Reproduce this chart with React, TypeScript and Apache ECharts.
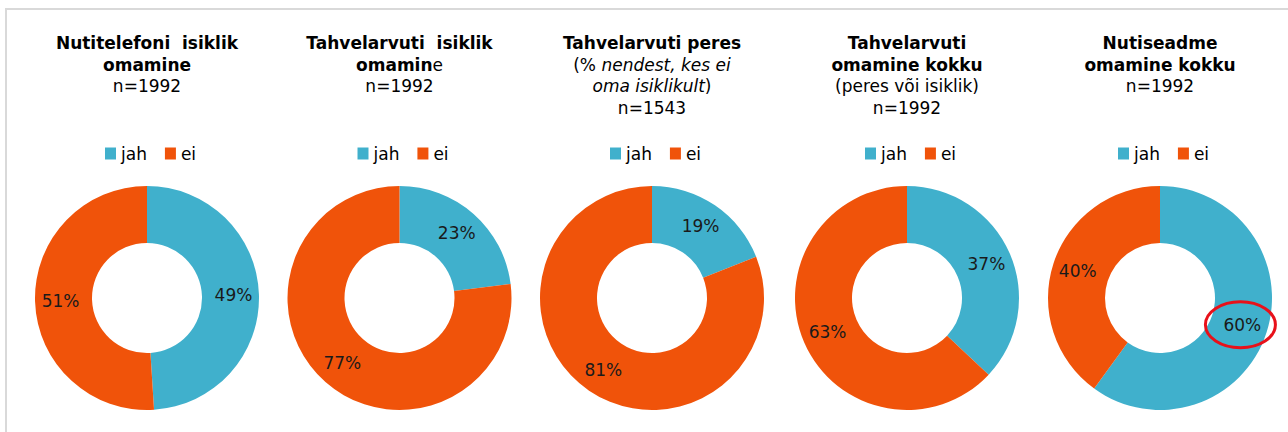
import React, { useEffect, useRef } from "react";
import * as echarts from "echarts";

const categories = ["jah", "ei"];
const jahValues = [49, 23, 19, 37, 60];
const eiValues = [51, 77, 81, 63, 40];
const titleTexts = [
  "{b|Nutitelefoni  isiklik}\n{b|omamine}\n{r|n=1992}",
  "{b|Tahvelarvuti  isiklik}\n{b|omamin}{r|e}\n{r|n=1992}",
  "{b|Tahvelarvuti peres}\n{r|(% }{i|nendest, kes ei}\n{i|oma isiklikult}{r|)}\n{r|n=1543}",
  "{b|Tahvelarvuti}\n{b|omamine kokku}\n{r|(peres või isiklik)}\n{r|n=1992}",
  "{b|Nutiseadme}\n{b|omamine kokku}\n{r|n=1992}",
];
const highlightChart = 4;

const centersX = [147, 399.5, 652, 907, 1160];
const centerY = 298;
const radii = [55, 112];
const COLORS = ["#40b0cc", "#f0530a"];
const FONT = "'DejaVu Sans', Verdana, sans-serif";

export default function App() {
  const ref = useRef<HTMLDivElement>(null);
  useEffect(() => {
    const chart = echarts.init(ref.current!, undefined, { renderer: "svg" });
    const rich = {
      b: { fontFamily: FONT, fontSize: 17, fontWeight: "bold", color: "#000", lineHeight: 21.7 },
      r: { fontFamily: FONT, fontSize: 17, fontWeight: "normal", color: "#000", lineHeight: 21.7 },
      i: { fontFamily: FONT, fontSize: 17, fontStyle: "italic", fontWeight: "normal", color: "#000", lineHeight: 21.7 },
    };
    const titles = titleTexts.map((t, k) => ({
      text: t,
      left: centersX[k],
      top: 32,
      padding: 0,
      textAlign: "center",
      textStyle: { rich, fontFamily: FONT, fontSize: 17, lineHeight: 21.7 },
    }));
    const legends = centersX.map((cx) => ({
      data: categories,
      left: cx - 42,
      top: 145,
      padding: 0,
      icon: "rect",
      itemWidth: 11,
      itemHeight: 12,
      itemGap: 18,
      selectedMode: false,
      textStyle: { fontFamily: FONT, fontSize: 17, color: "#000" },
    }));
    const series = centersX.map((cx, k) => ({
      type: "pie",
      center: [cx, centerY],
      radius: radii,
      startAngle: 90,
      clockwise: true,
      avoidLabelOverlap: false,
      silent: true,
      label: {
        show: true,
        position: "inside",
        formatter: (p: any) => p.value + "%",
        fontFamily: FONT,
        fontSize: 17,
        color: "#1a1a1a",
      },
      labelLine: { show: false },
      data: [
        { name: categories[0], value: jahValues[k], itemStyle: { color: COLORS[0] } },
        { name: categories[1], value: eiValues[k], itemStyle: { color: COLORS[1] } },
      ],
    }));
    // ellipse around highlighted label, positioned from data
    const hv = jahValues[highlightChart];
    const total = hv + eiValues[highlightChart];
    const midDeg = 90 - (hv / total) * 180;
    const rMid = (radii[0] + radii[1]) / 2;
    const ex = centersX[highlightChart] + rMid * Math.cos((midDeg * Math.PI) / 180) + 1;
    const ey = centerY - rMid * Math.sin((midDeg * Math.PI) / 180) + 1;
    chart.setOption({
      animation: false,
      backgroundColor: "#fff",
      title: titles,
      legend: legends,
      series,
      graphic: [
        {
          type: "rect",
          shape: { x: 6, y: 9, width: 1400, height: 600 },
          style: { fill: "none", stroke: "#d9d9d9", lineWidth: 2 },
          silent: true,
          z: -1,
        },
        {
          type: "ellipse",
          shape: { cx: ex, cy: ey, rx: 35, ry: 23 },
          style: { fill: "none", stroke: "#e8111a", lineWidth: 3 },
          silent: true,
          z: 100,
        },
      ],
    });
    return () => chart.dispose();
  }, []);
  return (
    <div
      ref={ref}
      style={{ position: "fixed", left: 0, top: 0, width: 1288, height: 432 }}
    />
  );
}
